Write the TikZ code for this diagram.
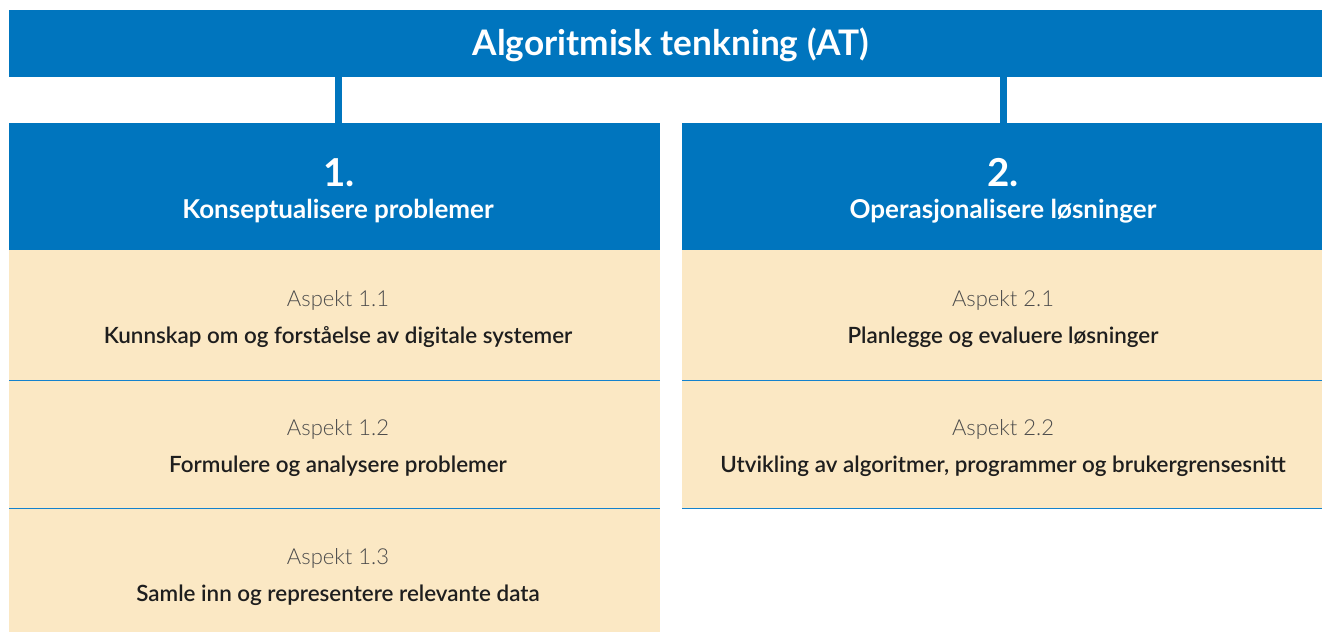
\documentclass[tikz,border=0pt]{standalone}
\usepackage{fontspec}
\setmainfont{Lato}
\newfontfamily\latolight{Lato Light}
\newfontfamily\latosemi{Lato Semibold}
\definecolor{atblue}{RGB}{0,117,190}
\definecolor{atline}{RGB}{20,130,205}
\definecolor{atbeige}{RGB}{251,232,196}
\definecolor{attext}{RGB}{30,30,30}
\definecolor{atgray}{RGB}{75,75,75}
\begin{document}
\begin{tikzpicture}[x=1pt,y=-1pt,
  bluebox/.style={fill=atblue,draw=none,inner sep=0pt,anchor=north west},
  beigebox/.style={fill=atbeige,draw=none,inner sep=0pt,anchor=north west},
  conn/.style={draw=atblue,line width=7pt},
  sep/.style={draw=atline,line width=1.5pt},
  titletext/.style={text=white,font=\bfseries\fontsize{35.2}{40}\selectfont,anchor=base},
  numtext/.style={text=white,font=\bfseries\fontsize{38.5}{44}\selectfont,anchor=base},
  headtext/.style={text=white,font=\bfseries\fontsize{26}{30}\selectfont,anchor=base},
  asptext/.style={text=atgray,font=\latolight\fontsize{22}{26}\selectfont,anchor=base},
  desctext/.style={text=attext,font=\latosemi\fontsize{22.4}{26}\selectfont,anchor=base}]
\useasboundingbox (0,0) rectangle (1322,632);
\fill[white] (0,0) rectangle (1322,632);
% top bar
\node[bluebox,minimum width=1313pt,minimum height=67pt] (top) at (9,10) {};
\node[titletext] (title) at (671,55) {Algoritmisk tenkning (AT)};
% column headers
\node[bluebox,minimum width=651pt,minimum height=127pt] (h1) at (9,123) {};
\node[bluebox,minimum width=640pt,minimum height=127pt] (h2) at (682,123) {};
\node[numtext] (n1) at (339,186) {1.};
\node[headtext] (t1) at (338,218) {Konseptualisere problemer};
\node[numtext] (n2) at (1003,186) {2.};
\node[headtext] (t2) at (1003,218) {Operasjonalisere løsninger};
% connectors
\coordinate (c1) at (338.5,123);
\coordinate (c2) at (1003.5,123);
\draw[conn] (top.south -| c1) -- (c1);
\draw[conn] (top.south -| c2) -- (c2);
% left aspects
\node[beigebox,minimum width=651pt,minimum height=130pt] (a11) at (9,250) {};
\node[beigebox,minimum width=651pt,minimum height=128pt] (a12) at (9,380) {};
\node[beigebox,minimum width=651pt,minimum height=124pt] (a13) at (9,508) {};
\node[asptext] (l11) at (338,306) {Aspekt 1.1};
\node[desctext] (d11) at (338,343) {Kunnskap om og forståelse av digitale systemer};
\node[asptext] (l12) at (338,435) {Aspekt 1.2};
\node[desctext] (d12) at (338,472) {Formulere og analysere problemer};
\node[asptext] (l13) at (338,564) {Aspekt 1.3};
\node[desctext] (d13) at (338,601) {Samle inn og representere relevante data};
% right aspects
\node[beigebox,minimum width=640pt,minimum height=130pt] (a21) at (682,250) {};
\node[beigebox,minimum width=640pt,minimum height=128pt] (a22) at (682,380) {};
\node[asptext] (l21) at (1003,306) {Aspekt 2.1};
\node[desctext] (d21) at (1003,343) {Planlegge og evaluere løsninger};
\node[asptext] (l22) at (1003,435) {Aspekt 2.2};
\node[desctext] (d22) at (1003,472) {Utvikling av algoritmer, programmer og brukergrensesnitt};
% separators
\draw[sep] (a11.south west) -- (a11.south east);
\draw[sep] (a12.south west) -- (a12.south east);
\draw[sep] (a21.south west) -- (a21.south east);
\draw[sep] (a22.south west) -- (a22.south east);
\end{tikzpicture}
\end{document}
